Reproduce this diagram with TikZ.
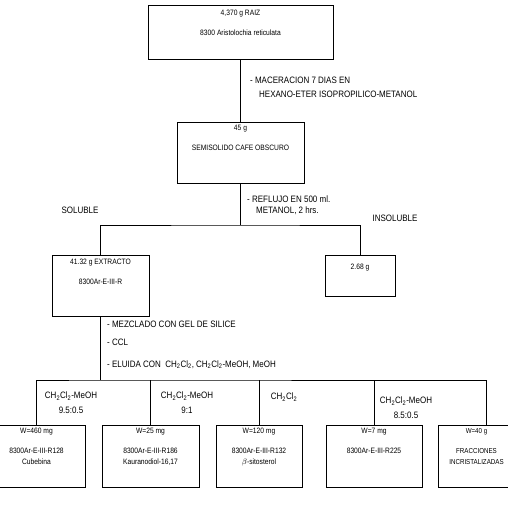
\documentclass[tikz,border=0pt]{standalone}
\usepackage{fontspec}
\setmainfont{Liberation Sans}[FakeStretch=0.86]
\usetikzlibrary{positioning}

\tikzset{
    caja/.style={draw, line width=0.9pt, inner sep=0pt},
    dentro/.style={font=\fontsize{7.8}{9}\selectfont, inner sep=0pt, align=center},
    rotulo/.style={font=\fontsize{9.3}{14}\selectfont, inner sep=0pt, align=left},
    linea/.style={line width=0.9pt}
}

\begin{document}
\begin{tikzpicture}[x=1pt, y=-1pt]
    \useasboundingbox (0,0) rectangle (507,529);

    % Cajas
    \node[caja, minimum width=185pt, minimum height=54pt] (raiz) at (240.5,32) {};
    \node[caja, minimum width=127pt, minimum height=61pt] (semi) at (240.5,152.5) {};
    \node[caja, minimum width=97pt, minimum height=61pt] (extr) at (100.5,285.5) {};
    \node[caja, minimum width=70pt, minimum height=41pt] (insol) at (360,275.5) {};

    \node[caja, minimum width=97pt, minimum height=62pt] (b1) at (36.5,456) {};
    \node[caja, minimum width=97pt, minimum height=62pt] (b2) at (150.5,456) {};
    \node[caja, minimum width=86pt, minimum height=62pt] (b3) at (259,456) {};
    \node[caja, minimum width=96pt, minimum height=62pt] (b4) at (374,456) {};
    \node[caja, minimum width=97pt, minimum height=62pt] (b5) at (486.5,456) {};

    % Textos de las cajas
    \node[dentro, below=5pt of raiz.north] (raizt) {4,370 g RAIZ\\[11pt]8300 Aristolochia reticulata};
    \node[dentro, below=3.5pt of semi.north] (semit) {45 g\\[11pt]SEMISOLIDO CAFE OBSCURO};
    \node[dentro, below=4.5pt of extr.north] (extrt) {41.32 g EXTRACTO\\[11pt]8300Ar-E-III-R};
    \node[dentro, below=9pt of insol.north] (insolt) {2.68 g};

    \node[dentro, below=3.5pt of b1.north] (b1t) {W=460 mg\\[11pt]8300Ar-E-III-R128\\[2pt]Cubebina};
    \node[dentro, below=3.5pt of b2.north] (b2t) {W=25 mg\\[11pt]8300Ar-E-III-R186\\[2pt]Kauranodiol-16,17};
    \node[dentro, below=3.5pt of b3.north] (b3t) {W=120 mg\\[11pt]8300Ar-E-III-R132\\[2pt]$\beta$-sitosterol};
    \node[dentro, below=3.5pt of b4.north] (b4t) {W=7 mg\\[11pt]8300Ar-E-III-R225};
    \node[dentro, anchor=north, font=\fontsize{7.2}{9}\selectfont] (b5t) at ([xshift=-10pt, yshift=-3.5pt]b5.north)
        {W=40 g\\[11pt]FRACCIONES\\[2pt]INCRISTALIZADAS};

    % Conectores
    \coordinate (j1) at (240.5,225);
    \coordinate (j2) at (100.5,380);
    \draw[linea] (raiz) -- (semi);
    \draw[linea] (semi) -- (j1);
    \draw[linea] (extr) |- (j1) -| (insol);
    \draw[linea] (extr) -- (j2);
    \draw[linea] (b1) |- (j2) -| (b5);
    \foreach \b in {b2,b3,b4}
        \draw[linea] (\b) -- (\b.north |- j2);

    % Rotulos
    \node[rotulo, anchor=north west] (macer) at (250,76.5)
        {- MACERACION 7 DIAS EN\\\hspace*{9pt}HEXANO-ETER ISOPROPILICO-METANOL};
    \node[rotulo, anchor=north west, font=\fontsize{9.3}{11}\selectfont] (reflu) at (247,195.5)
        {- REFLUJO EN 500 ml.\\\hspace*{9pt}METANOL, 2 hrs.};
    \node[rotulo] (sol) at (80,210) {SOLUBLE};
    \node[rotulo] (insol2) at (395,218) {INSOLUBLE};
    \node[rotulo, anchor=north west, font=\fontsize{9.3}{18}\selectfont] (mezcl) at (107,320.5)
        {- MEZCLADO CON GEL DE SILICE\\- CCL\\[4pt]- ELUIDA CON\ \ CH\textsubscript{2}Cl\textsubscript{2}, CH\textsubscript{2}Cl\textsubscript{2}-MeOH, MeOH};

    \node[rotulo, align=center, font=\fontsize{9.3}{15}\selectfont] (e1) at (71,403) {CH\textsubscript{2}Cl\textsubscript{2}-MeOH\\9.5:0.5};
    \node[rotulo, align=center, font=\fontsize{9.3}{15}\selectfont] (e2) at (187,403) {CH\textsubscript{2}Cl\textsubscript{2}-MeOH\\9:1};
    \node[rotulo] (e3) at (284,397) {CH\textsubscript{2}Cl\textsubscript{2}};
    \node[rotulo, align=center, font=\fontsize{9.3}{15}\selectfont] (e4) at (406,408) {CH\textsubscript{2}Cl\textsubscript{2}-MeOH\\8.5:0.5};

\end{tikzpicture}
\end{document}
